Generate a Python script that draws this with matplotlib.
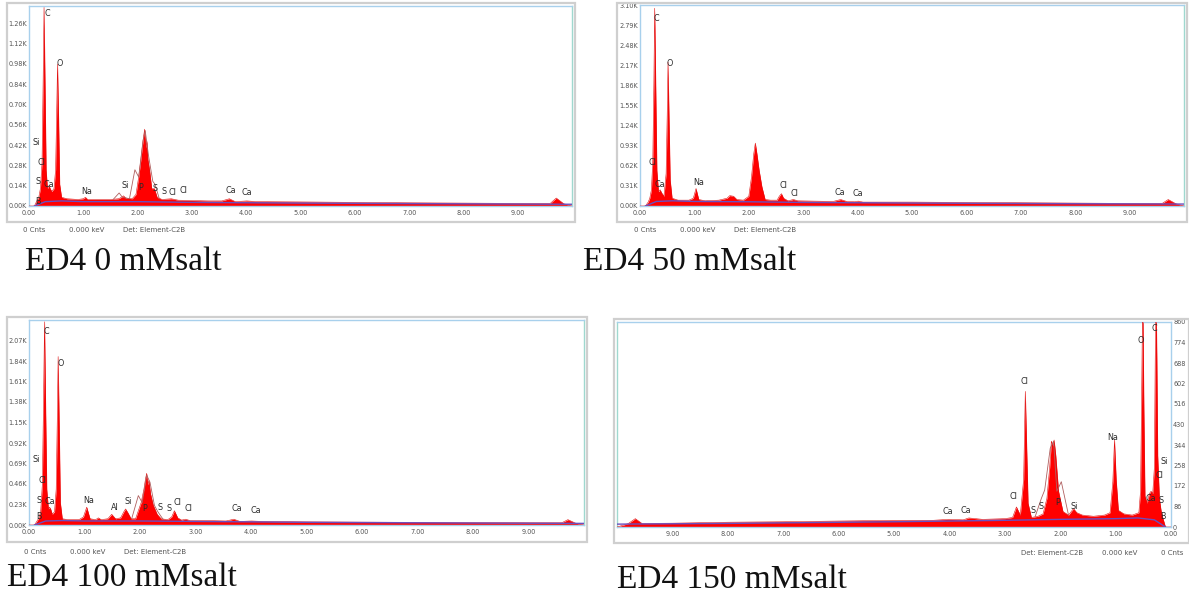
import matplotlib
matplotlib.use("Agg")
import matplotlib.pyplot as plt
from matplotlib.patches import Rectangle

# ---- spectra (energy in keV, counts) ----
# ED4 0 mM salt (counts in K)
e1 = [0.00, 0.10, 0.15, 0.18, 0.21, 0.24, 0.26, 0.277, 0.295, 0.315, 0.34, 0.37, 0.39, 0.42, 0.46,
      0.49, 0.51, 0.525, 0.545, 0.565, 0.60, 0.70, 0.90, 1.00, 1.04, 1.08, 1.30, 1.50, 1.65, 1.70,
      1.74, 1.78, 1.90, 1.97, 2.02, 2.06, 2.09, 2.11, 2.13, 2.15, 2.17, 2.19, 2.22, 2.26, 2.31,
      2.36, 2.45, 2.62, 2.75, 3.00, 3.30, 3.55, 3.69, 3.80, 4.01, 4.20, 5.00, 6.00, 7.00, 8.00,
      9.00, 9.60, 9.71, 9.85, 10.0]
c1 = [0.00, 0.00, 0.04, 0.06, 0.12, 0.30, 0.85, 1.37, 0.85, 0.25, 0.12, 0.14, 0.12, 0.10, 0.12,
      0.25, 0.65, 0.98, 0.60, 0.15, 0.06, 0.05, 0.045, 0.05, 0.06, 0.045, 0.045, 0.045, 0.05, 0.06,
      0.07, 0.055, 0.05, 0.08, 0.20, 0.32, 0.42, 0.48, 0.53, 0.40, 0.45, 0.32, 0.25, 0.12, 0.12,
      0.06, 0.045, 0.05, 0.04, 0.038, 0.035, 0.035, 0.05, 0.03, 0.035, 0.03, 0.028, 0.025, 0.022, 0.02,
      0.018, 0.018, 0.055, 0.015, 0.0]
fit1_e = [1.55, 1.66, 1.72, 1.85, 1.95, 2.02, 2.10, 2.14, 2.20, 2.28, 2.32, 2.40]
fit1_c = [0.045, 0.09, 0.06, 0.05, 0.25, 0.20, 0.45, 0.52, 0.35, 0.17, 0.15, 0.05]
bg1 = [0.0, 0.03, 0.035, 0.03, 0.03, 0.025, 0.02, 0.015, 0.012]

# ED4 50 mM salt (counts in K)
e2 = [0.00, 0.10, 0.15, 0.18, 0.21, 0.235, 0.255, 0.27, 0.29, 0.31, 0.34, 0.37, 0.40, 0.44, 0.48,
      0.50, 0.515, 0.535, 0.555, 0.59, 0.70, 0.90, 0.98, 1.03, 1.08, 1.20, 1.45, 1.60, 1.65, 1.72,
      1.78, 1.90, 2.00, 2.05, 2.09, 2.12, 2.15, 2.19, 2.24, 2.30, 2.40, 2.52, 2.56, 2.60, 2.64,
      2.72, 2.82, 2.90, 3.20, 3.55, 3.69, 3.80, 3.95, 4.01, 4.10, 5.0, 6.0, 7.0, 8.0, 9.0,
      9.60, 9.71, 9.85, 10.0]
c2 = [0.0, 0.0, 0.06, 0.12, 0.25, 0.70, 1.90, 3.05, 1.80, 0.55, 0.22, 0.25, 0.20, 0.15, 0.50,
      1.40, 2.22, 1.30, 0.40, 0.12, 0.09, 0.09, 0.12, 0.27, 0.10, 0.08, 0.09, 0.12, 0.16, 0.15,
      0.10, 0.09, 0.15, 0.45, 0.80, 0.97, 0.80, 0.55, 0.30, 0.10, 0.09, 0.09, 0.15, 0.19, 0.12,
      0.08, 0.10, 0.08, 0.075, 0.07, 0.10, 0.07, 0.065, 0.075, 0.06, 0.06, 0.055, 0.05, 0.045, 0.04,
      0.04, 0.10, 0.035, 0.0]
bg2 = [0.0, 0.07, 0.08, 0.07, 0.065, 0.055, 0.045, 0.035, 0.03]

# ED4 100 mM salt (counts in K)
e3 = [0.00, 0.10, 0.15, 0.18, 0.21, 0.24, 0.26, 0.28, 0.30, 0.32, 0.35, 0.37, 0.39, 0.42, 0.46,
      0.49, 0.51, 0.525, 0.545, 0.565, 0.60, 0.70, 0.90, 0.98, 1.04, 1.10, 1.20, 1.25, 1.30, 1.42,
      1.49, 1.56, 1.65, 1.71, 1.74, 1.78, 1.84, 1.92, 2.02, 2.07, 2.10, 2.12, 2.14, 2.16, 2.19,
      2.24, 2.31, 2.38, 2.50, 2.57, 2.62, 2.68, 2.75, 2.82, 2.90, 3.2, 3.55, 3.69, 3.8, 4.01,
      4.2, 5, 6, 7, 8, 9, 9.60, 9.71, 9.85, 10.0]
c3 = [0.0, 0.0, 0.05, 0.08, 0.15, 0.45, 1.30, 2.28, 1.30, 0.40, 0.18, 0.20, 0.18, 0.12, 0.15,
      0.40, 1.20, 1.89, 1.10, 0.25, 0.07, 0.06, 0.06, 0.09, 0.20, 0.07, 0.06, 0.08, 0.06, 0.07,
      0.12, 0.07, 0.08, 0.15, 0.18, 0.14, 0.07, 0.07, 0.25, 0.40, 0.52, 0.58, 0.45, 0.50, 0.35,
      0.22, 0.12, 0.07, 0.06, 0.09, 0.16, 0.08, 0.055, 0.065, 0.05, 0.05, 0.045, 0.065, 0.04, 0.045,
      0.04, 0.035, 0.032, 0.03, 0.028, 0.025, 0.025, 0.06, 0.02, 0.0]
fit3_e = [1.85, 1.97, 2.04, 2.12, 2.18, 2.26, 2.32, 2.42]
fit3_c = [0.07, 0.33, 0.25, 0.56, 0.48, 0.22, 0.15, 0.06]
bg3 = [0.0, 0.045, 0.05, 0.045, 0.045, 0.04, 0.03, 0.022, 0.018]

# ED4 150 mM salt (counts)
e4 = [0.00, 0.10, 0.15, 0.18, 0.21, 0.24, 0.255, 0.27, 0.285, 0.30, 0.33, 0.36, 0.39, 0.43, 0.47,
      0.49, 0.51, 0.53, 0.55, 0.58, 0.70, 0.85, 0.95, 0.99, 1.02, 1.05, 1.10, 1.20, 1.40, 1.60,
      1.70, 1.76, 1.85, 1.95, 2.03, 2.08, 2.11, 2.13, 2.16, 2.19, 2.24, 2.31, 2.40, 2.52, 2.58,
      2.61, 2.63, 2.66, 2.72, 2.79, 2.86, 3.00, 3.40, 3.65, 3.75, 4.02, 4.3, 5, 6, 7,
      8, 9, 9.55, 9.67, 9.8, 10.0]
c4 = [0, 0, 40, 70, 120, 300, 700, 1000, 700, 250, 140, 150, 140, 100, 130,
      500, 1000, 550, 150, 60, 50, 55, 70, 200, 365, 190, 60, 50, 45, 50,
      60, 77, 50, 65, 150, 300, 365, 340, 360, 250, 120, 55, 45, 40, 100,
      380, 569, 200, 50, 84, 40, 35, 32, 38, 30, 32, 28, 28, 25, 22,
      20, 16, 15, 35, 14, 0]
fit4_e = [1.85, 1.98, 2.06, 2.12, 2.18, 2.28, 2.34, 2.45]
fit4_c = [50, 190, 150, 360, 330, 155, 120, 45]
bg4 = [0, 30, 38, 35, 32, 28, 22, 15, 12]

bg_e = [0.1, 0.3, 0.6, 1.0, 2.0, 3.0, 5.0, 8.0, 10.0]

# element labels: name, energy, height
lab1 = (["C", "O", "Si", "Cl", "S", "Ca", "B", "Na", "Si", "P", "S", "S", "Cl", "Cl", "Ca", "Ca"],
        [0.33, 0.57, 0.13, 0.23, 0.17, 0.37, 0.17, 1.07, 1.78, 2.05, 2.33, 2.49, 2.64, 2.84, 3.71, 4.02],
        [1.33, 0.98, 0.435, 0.30, 0.17, 0.145, 0.03, 0.10, 0.14, 0.125, 0.12, 0.10, 0.09, 0.105, 0.11, 0.09])
lab2 = (["C", "O", "Cl", "Ca", "Na", "Cl", "Cl", "Ca", "Ca"],
        [0.30, 0.55, 0.22, 0.36, 1.07, 2.64, 2.84, 3.68, 4.00],
        [2.89, 2.20, 0.67, 0.33, 0.36, 0.32, 0.19, 0.21, 0.19])
lab3 = (["C", "O", "Si", "Cl", "S", "Ca", "B", "Na", "Al", "Si", "P", "S", "S", "Cl", "Cl", "Ca", "Ca"],
        [0.31, 0.57, 0.13, 0.24, 0.19, 0.37, 0.18, 1.07, 1.54, 1.79, 2.08, 2.36, 2.52, 2.67, 2.87, 3.74, 4.08],
        [2.17, 1.81, 0.73, 0.50, 0.28, 0.26, 0.10, 0.27, 0.20, 0.26, 0.19, 0.20, 0.18, 0.25, 0.19, 0.18, 0.165])
lab4 = (["C", "O", "Cl", "Na", "Si", "Cl", "Ca", "S", "B", "Cl", "S", "S", "P", "Si", "Ca", "Ca"],
        [0.30, 0.55, 2.64, 1.06, 0.12, 0.21, 0.36, 0.18, 0.15, 2.84, 2.34, 2.49, 2.04, 1.74, 3.71, 4.02],
        [832, 784, 611, 377, 274, 218, 120, 112, 44, 126, 88, 70, 101, 87, 70, 66])

titles = ["ED4 0 mMsalt", "ED4 50 mMsalt", "ED4 100 mMsalt", "ED4 150 mMsalt"]

W, H = 1189, 601
fig = plt.figure(figsize=(W / 100, H / 100), dpi=100)


def px_axes(l, t, r, b):
    return fig.add_axes([l / W, 1 - b / H, (r - l) / W, (b - t) / H])


def frame(l, t, r, b):
    fig.patches.append(Rectangle((l / W, 1 - b / H), (r - l) / W, (b - t) / H,
                                 transform=fig.transFigure, fill=False,
                                 edgecolor="#cfcfcf", linewidth=1.6))


def spectrum(ax, e, c, bg, ymax, yticks, fmt, labels, fit=None, mirrored=False):
    ax.fill_between(e, c, color="#ff0000", linewidth=0, zorder=2)
    ax.plot(e, c, color="#e01010", linewidth=0.4, zorder=3)
    if fit:
        ax.plot(fit[0], fit[1], color="#b06060", linewidth=0.6, zorder=4)
    ax.plot(bg_e, bg, color="#6a4fc0", linewidth=1.0, zorder=4)
    for name, x, y in zip(*labels):
        ax.text(x, y, name, fontsize=5.8, color="#2a2a2a", ha="center", va="center", zorder=5)
    ax.set_xlim(0, 10)
    ax.set_ylim(0, ymax)
    ax.set_xticks(range(10))
    ax.set_xticklabels([f"{i:.2f}" for i in range(10)])
    ax.set_yticks(yticks)
    ax.set_yticklabels([fmt(v) for v in yticks])
    ax.tick_params(length=0, labelsize=4.7, colors="#555555", pad=1.5)
    ax.tick_params(axis="x", pad=3)
    for s in ax.spines.values():
        s.set_color("#a8d0ec")
        s.set_linewidth(1.0)
    if mirrored:
        ax.invert_xaxis()
        ax.yaxis.tick_right()
        ax.spines["left"].set_color("#9fd8cf")
    else:
        ax.spines["right"].set_color("#9fd8cf")


def info(x0, y, mirrored=False):
    items = ["0 Cnts", "0.000 keV", "Det: Element-C2B"]
    offs = [0, 46, 100]
    for s, o in zip(items, offs):
        if mirrored:
            fig.text((x0 - o) / W, 1 - y / H, s, fontsize=5, color="#555555", ha="right", va="center")
        else:
            fig.text((x0 + o) / W, 1 - y / H, s, fontsize=5, color="#555555", ha="left", va="center")


k2 = lambda v: f"{v:.2f}K"

# panel 1
frame(7, 3, 575, 222)
ax1 = px_axes(29, 6, 572, 206)
spectrum(ax1, e1, c1, bg1, 1.38, [i * 0.14 for i in range(10)], k2, lab1, fit=(fit1_e, fit1_c))
info(23, 230)

# panel 2
frame(617, 3, 1187, 222)
ax2 = px_axes(640, 5, 1184, 206)
spectrum(ax2, e2, c2, bg2, 3.10, [i * 0.31 for i in range(11)], k2, lab2)
info(634, 230)

# panel 3
frame(7, 317, 587, 542)
ax3 = px_axes(29, 320, 584, 525)
spectrum(ax3, e3, c3, bg3, 2.30, [i * 0.23 for i in range(10)], k2, lab3, fit=(fit3_e, fit3_c))
info(24, 552)

# panel 4 (mirrored image)
frame(614, 319, 1189, 543)
ax4 = px_axes(617, 322, 1171, 527)
spectrum(ax4, e4, c4, bg4, 860, [i * 86 for i in range(11)], lambda v: f"{v:d}", lab4,
         fit=(fit4_e, fit4_c), mirrored=True)
info(1183, 553, mirrored=True)

title_pos = [(25, 262), (583, 262), (7, 578), (617, 580)]
for t, (x, y) in zip(titles, title_pos):
    fig.text(x / W, 1 - y / H, t, fontsize=24, family="Liberation Serif", color="#111111",
             ha="left", va="center")

fig.savefig("out.png", dpi=100)
